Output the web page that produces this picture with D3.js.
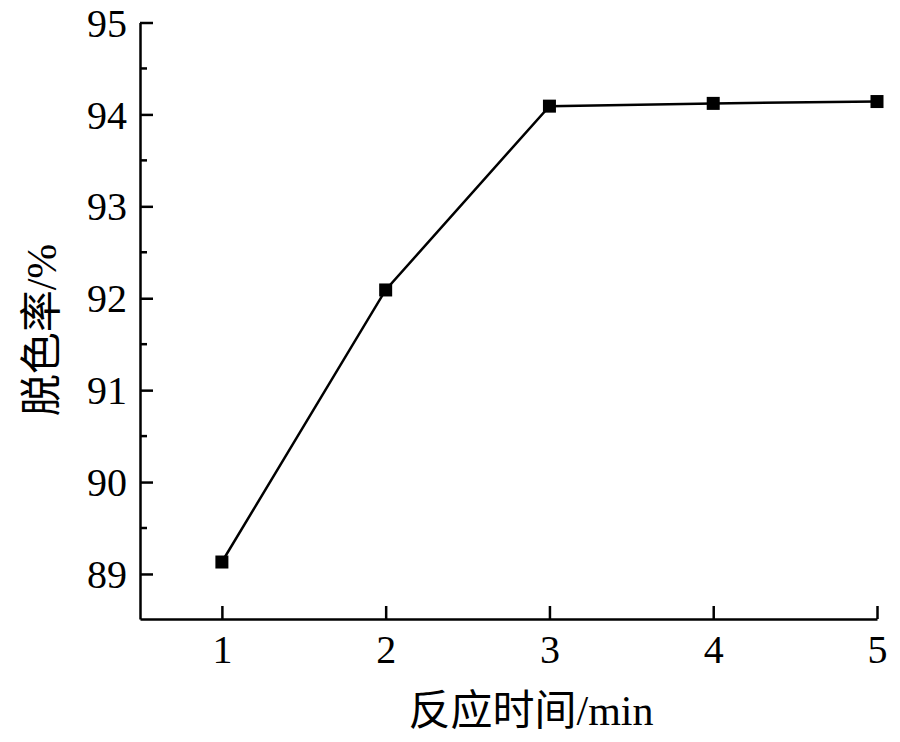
<!DOCTYPE html>
<html>
<head>
<meta charset="utf-8">
<script src="https://cdn.jsdelivr.net/npm/d3@7"></script>
<style>
  body { margin: 0; background: #fff; }
  text { fill: #000; }
</style>
</head>
<body>
<svg id="chart"></svg>
<script>
var times = [1, 2, 3, 4, 5];
var rates = [89.13, 92.09, 94.09, 94.12, 94.14];
var xTicks = [1, 2, 3, 4, 5];
var yTicks = [89, 90, 91, 92, 93, 94, 95];
var yMinor = [89.5, 90.5, 91.5, 92.5, 93.5, 94.5];

function draw() {
  var W = 900, H = 742;
  var padL = 140, padR = 877, padT = 22.5, padB = 619;

  var svg = d3.select("#chart").attr("width", W).attr("height", H);

  var x = d3.scaleLinear().domain([0.5, 5]).range([padL, padR]);
  var y = d3.scaleLinear().domain([88.51, 95]).range([padB, padT]);

  var serif = "'Liberation Serif', 'Times New Roman', serif";
  var cjk = "'Liberation Serif', 'Noto Sans CJK SC', serif";

  // x axis, ticks pointing inward
  var gx = svg.append("g")
      .attr("transform", "translate(0," + padB + ")")
      .call(d3.axisTop(x).tickValues(xTicks).tickSize(13).tickFormat(d3.format("d")).tickSizeOuter(0));
  gx.select(".domain").attr("stroke", "#000").attr("stroke-width", 2.5);
  gx.selectAll(".tick line").attr("stroke", "#000").attr("stroke-width", 2.5);
  gx.selectAll(".tick text")
      .attr("y", 44).attr("dy", 0)
      .style("font-family", serif).style("font-size", "40px");

  // y axis
  var gy = svg.append("g")
      .attr("transform", "translate(" + padL + ",0)")
      .call(d3.axisRight(y).tickValues(yTicks).tickSize(13).tickSizeOuter(0).tickFormat(d3.format("d")));
  gy.select(".domain").attr("stroke", "#000").attr("stroke-width", 2.5);
  gy.selectAll(".tick line").attr("stroke", "#000").attr("stroke-width", 2.5);
  gy.selectAll(".tick text")
      .attr("x", -13).attr("dy", "0.34em")
      .attr("text-anchor", "end")
      .style("font-family", serif).style("font-size", "40px");

  // minor y ticks
  gy.selectAll(".minor")
    .data(yMinor)
    .enter().append("line")
      .attr("class", "minor")
      .attr("x1", 0).attr("x2", 7)
      .attr("y1", function(d){ return y(d); })
      .attr("y2", function(d){ return y(d); })
      .attr("stroke", "#000").attr("stroke-width", 2.5);

  var data = times.map(function(t, i){ return {t: t, v: rates[i]}; });

  svg.append("path")
      .datum(data)
      .attr("fill", "none")
      .attr("stroke", "#000")
      .attr("stroke-width", 2.5)
      .attr("d", d3.line().x(function(d){ return x(d.t); }).y(function(d){ return y(d.v); }));

  var s = 13;
  svg.selectAll(".pt")
    .data(data)
    .enter().append("rect")
      .attr("class", "pt")
      .attr("x", function(d){ return x(d.t) - s / 2; })
      .attr("y", function(d){ return y(d.v) - s / 2; })
      .attr("width", s).attr("height", s)
      .attr("fill", "#000");

  // axis titles
  svg.append("text")
      .attr("x", 531).attr("y", 725)
      .attr("text-anchor", "middle")
      .style("font-family", cjk).style("font-size", "42px")
      .text("反应时间/min");

  svg.append("text")
      .attr("transform", "translate(56,330) rotate(-90)")
      .attr("text-anchor", "middle")
      .style("font-family", cjk).style("font-size", "42px")
      .text("脱色率/%");
}

draw();
</script>
</body>
</html>
